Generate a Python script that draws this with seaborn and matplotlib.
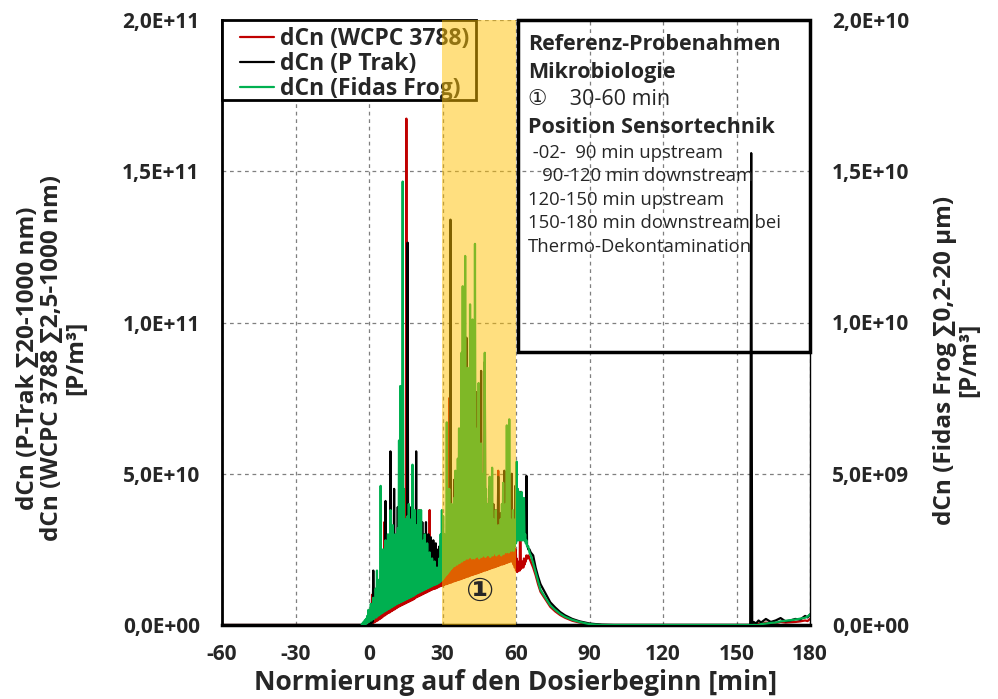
import numpy as np
import pandas as pd
import seaborn as sns
import matplotlib.pyplot as plt
from matplotlib.patches import Rectangle
from matplotlib.ticker import FuncFormatter

# half-minute grid starting at -3 min: "lo" sample at t, "hi" sample at t + 0.25
grid_start = -3.0

# Fidas Frog (right axis), values in 1e8 P/m3
green_hi_e8 = [0.5, 1, 1.5, 2, 3, 5, 4, 7, 6, 9,
               8, 12, 18, 10, 15, 46, 20, 25, 18, 28,
               22, 30, 25, 38, 27, 33, 24, 30, 26, 32,
               61, 79, 50, 146.6, 45, 35, 30, 36, 40, 30,
               35, 53, 30, 38, 33, 28, 38, 32, 38, 25,
               28, 30, 25, 27, 22, 24, 20, 22, 18, 21,
               17, 19, 16, 22, 30, 38, 36, 30, 25, 67,
               30, 45, 35, 40, 38, 42, 51, 40, 55, 65,
               60, 90, 112, 80, 122, 70, 85, 60, 106, 55,
               101, 70, 126, 50, 65, 80, 55, 60, 45, 50,
               90, 45, 40, 35, 49, 38, 52, 35, 30, 38,
               28, 33, 30, 35, 40, 47, 35, 40, 66, 38,
               68, 35, 30, 38, 32, 35, 54, 45, 44, 30,
               44, 35, 42, 30, 28, 26]
green_lo_e8 = [0, 0, 0, 0.3, 0.5, 1, 1, 1.5, 1.5, 2,
               2, 2.5, 2.5, 3, 3.2, 3.5, 3.8, 4, 4.3, 4.6,
               4.8, 5.1, 5.3, 5.5, 5.8, 6, 6.3, 6.5, 6.8, 7,
               7.2, 7.4, 7.6, 7.8, 8, 8.2, 8.4, 8.6, 8.8, 9,
               9.2, 9.4, 9.6, 9.8, 10.2, 10.4, 10.6, 10.8, 11, 11.2,
               11.4, 11.6, 11.8, 12, 12.2, 12.4, 12.6, 12.8, 13, 13.2,
               13.3, 13.5, 13.7, 13.9, 14.2, 14.6, 15, 15.5, 16, 16.5,
               17, 17.5, 18, 18.5, 19, 19.5, 19.5, 20, 20, 20.5,
               20.5, 21, 21, 21.5, 21.5, 22, 22, 22, 22.5, 22.5,
               22, 22.5, 22, 23, 22.5, 23, 22, 23, 22.5, 23,
               23, 22.5, 23, 23.5, 23, 22.5, 23.5, 23, 24, 23.5,
               23, 24, 23.5, 24, 23, 24, 23.5, 24.5, 24, 24.5,
               24, 25, 24.5, 25, 24.5, 26, 27, 28, 28, 28,
               28, 28, 28, 28, 27, 26]

# WCPC 3788 (left axis), values in 1e9 P/m3
red_hi = [0, 0, 0, 0, 0, 0, 0.5, 3, 10, 2,
          4, 2, 5, 3, 6, 5, 8, 12, 34, 6,
          10, 8, 12, 9, 32, 10, 14, 11, 15, 12,
          16, 13, 20, 15, 22, 18, 167.4, 30, 18, 14,
          16, 14, 18, 15, 17, 14, 20, 38, 16, 15,
          18, 16, 20, 17, 22, 38, 18, 17, 19, 16,
          18, 17, 19, 18, 20, 18, 22, 19, 21, 22,
          25, 75, 22, 24, 21, 23, 25, 22, 24, 21,
          23, 25, 22, 24, 26, 22, 25, 23, 24, 26,
          22, 25, 28, 77, 24, 26, 23, 25, 27, 24,
          25, 27, 24, 26, 25, 28, 24, 26, 25, 27,
          24, 51, 26, 25, 27, 24, 26, 25, 28, 26,
          25, 27, 26, 24, 26, 25, 22, 21, 20, 44,
          20, 21, 22, 21, 23, 22]
red_lo = [0, 0, 0, 0, 0, 0, 0, 0.2, 0.3, 0.6,
          0.8, 1, 1.3, 1.5, 1.8, 2, 2.3, 2.6, 3, 3.2,
          3.5, 3.8, 4, 4.2, 4.5, 4.7, 5, 5.2, 5.5, 5.7,
          6, 6.2, 6.4, 6.6, 6.8, 7, 7.2, 7.4, 7.6, 7.8,
          8, 8.2, 8.4, 8.6, 9, 9.2, 9.4, 9.6, 9.8, 10,
          10.2, 10.4, 10.6, 10.8, 11, 11.2, 11.4, 11.6, 11.8, 12,
          12, 12.2, 12.4, 12.6, 12.8, 13, 13, 13.2, 13.4, 13.5,
          13.6, 13.8, 14, 14, 14.2, 14.4, 14.5, 14.6, 14.8, 15,
          15, 15.2, 15.3, 15.5, 15.6, 15.8, 16, 16, 16.2, 16.4,
          16.5, 16.6, 16.8, 17, 17, 17.2, 17.3, 17.5, 17.6, 17.8,
          18, 18, 18.2, 18.3, 18.5, 18.6, 18.8, 19, 19, 19.2,
          19.3, 19.5, 19.6, 19.8, 20, 20, 20.2, 20.3, 20.5, 20.6,
          20.8, 21, 21, 21, 20, 19, 18, 17.5, 18, 18,
          18.5, 19, 19, 20, 21, 22]

# P-Trak (left axis), values in 1e9 P/m3
black_hi = [0, 0, 0, 0, 0, 0, 0.5, 2, 5, 18,
            8, 6, 10, 7, 12, 9, 15, 11, 14, 41,
            12, 16, 13, 57.4, 14, 18, 45, 16, 20, 39,
            18, 22, 20, 25, 24, 30, 28, 126.4, 35, 28,
            39, 25, 30, 28, 57.4, 26, 30, 24, 28, 34,
            25, 30, 34, 27, 30, 24, 29, 26, 28, 25,
            27, 24, 25, 26, 23, 24, 25, 26, 24, 30,
            28, 32, 134, 35, 30, 48, 33, 36, 38, 40,
            42, 45, 40, 50, 46, 95, 44, 55, 48, 79,
            45, 50, 42, 77, 48, 52, 46, 84, 44, 50,
            87, 42, 40, 38, 46, 36, 35, 40, 34, 38,
            33, 49, 35, 37, 34, 36, 51, 35, 33, 37,
            34, 32, 50, 35, 33, 46, 32, 30, 44, 30,
            43, 30, 32, 28, 49.3, 26]
black_lo = [0, 0, 0, 0, 0, 0, 0, 0.3, 0.6, 1,
            2.5, 3, 3, 3.5, 3.7, 4, 4.3, 4.5, 4.8, 5.1,
            5.3, 5.6, 5.8, 6, 6.3, 6.5, 6.8, 7, 7.3, 7.5,
            7.7, 7.9, 8.1, 8.3, 8.5, 8.7, 8.9, 9.1, 9.3, 9.5,
            9.7, 9.9, 10.1, 10.3, 10.7, 10.9, 11.1, 11.3, 11.5, 11.7,
            11.9, 12.1, 12.3, 12.5, 12.7, 12.9, 13.1, 13.3, 13.5, 13.7,
            13.8, 14, 14.2, 14.4, 14.7, 15.1, 15.5, 16, 16.5, 17,
            17.5, 18, 18.5, 19, 19.5, 20, 20, 20.5, 20.5, 21,
            21, 21.5, 21.5, 22, 22, 22.5, 22.5, 22.5, 23, 23,
            22.5, 23, 22.5, 23.5, 23, 23.5, 22.5, 23.5, 23, 23.5,
            23.5, 23, 23.5, 24, 23.5, 23, 24, 23.5, 24.5, 24,
            23.5, 24.5, 24, 24.5, 23.5, 24.5, 24, 25, 24.5, 25,
            24.5, 25.5, 25, 25.5, 25, 26.5, 27.5, 28.5, 28.5, 28.5,
            28.5, 28.5, 28.5, 28.5, 27.5, 26.5]

# decay after dosing
tail_t = [65, 65.5, 66, 67, 68, 69, 70, 72, 74, 76, 78, 80, 83, 86, 90, 95, 100]
green_tail_e8 = [26, 24, 23, 20.5, 17.5, 14.5, 11.6, 9, 6.5, 5, 3.7, 2.7, 1.7, 1, 0.3, 0, 0]
red_tail = [23, 22, 21, 19, 16.5, 13.5, 11, 8.5, 6, 4.5, 3.3, 2.4, 1.4, 0.8, 0.2, 0, 0]
black_tail = [25, 25, 24, 23, 19, 16, 13.5, 10.5, 7.5, 5.8, 4.3, 3.2, 2, 1.2, 0.5, 0.1, 0]

# thermo decontamination phase
late_t = [150, 155.6, 156.0, 156.4, 157, 158, 159, 160, 162, 164, 166, 168,
          170, 172, 174, 176, 178, 179, 180]
green_late_e8 = [0, 0, 0, 0, 0, 0, 0, 0.3, 0.5, 0.7, 0.8, 1.2, 1.4, 1.6, 1.8, 2.1, 2.4, 2.8, 3.5]
red_late = [0, 0, 2, 0.5, 0.3, 0.2, 0.5, 0.3, 0.8, 0.5, 0.6, 1, 0.8, 0.9, 1, 1.2, 1.5, 1.3, 2]
black_late = [0, 0, 156, 0.5, 1, 0.5, 1.5, 0.8, 2, 1, 1.5, 2.3, 1.2, 1.5, 2, 1.8, 3, 2.5, 3.5]

labels = ["dCn (WCPC 3788)", "dCn (P Trak)", "dCn (Fidas Frog)"]


def build(lo, hi, tail, late, scale, start=None):
    n = len(lo)
    t0 = grid_start + 0.5 * np.arange(n)
    t = np.empty(2 * n)
    v = np.empty(2 * n)
    t[0::2], t[1::2] = t0, t0 + 0.25
    v[0::2], v[1::2] = lo, hi
    ts = [t, tail_t, late_t]
    vs = [v, tail, late]
    if start is not None:
        ts.insert(0, [start])
        vs.insert(0, [0])
    return pd.DataFrame({"t": np.concatenate(ts),
                         "v": np.concatenate(vs) * scale})


df_red = build(red_lo, red_hi, red_tail, red_late, 1e9, start=-60)
df_black = build(black_lo, black_hi, black_tail, black_late, 1e9, start=-60)
df_green = build(green_lo_e8, green_hi_e8, green_tail_e8, green_late_e8, 1e8)

sns.set_theme(style="white")
plt.rcParams["font.family"] = ["Open Sans", "DejaVu Sans", "Noto Sans CJK SC"]
plt.rcParams["axes.unicode_minus"] = False

fig = plt.figure(figsize=(9.98, 6.99), dpi=100)
ax = fig.add_axes([222 / 998, 1 - 625 / 699, 588 / 998, 605 / 699])
ax2 = ax.twinx()

sns.lineplot(data=df_red, x="t", y="v", ax=ax, color="#C00000", lw=1.6,
             estimator=None, sort=False, zorder=2)
sns.lineplot(data=df_black, x="t", y="v", ax=ax, color="black", lw=1.6,
             estimator=None, sort=False, zorder=3)
sns.lineplot(data=df_green, x="t", y="v", ax=ax2, color="#00B050", lw=1.6,
             estimator=None, sort=False, zorder=2)

ax.set_xlim(-60, 180)
ax.set_ylim(0, 2e11)
ax2.set_ylim(0, 2e10)
ax.set_xticks(range(-60, 181, 30))
ax.set_yticks(np.arange(0, 2.01e11, 5e10))
ax2.set_yticks(np.arange(0, 2.01e10, 5e9))
sci = FuncFormatter(lambda v, p: f"{v:.1E}".replace(".", ","))
ax.yaxis.set_major_formatter(sci)
ax2.yaxis.set_major_formatter(sci)
ax.set_xlabel("")
ax.set_ylabel("")
ax2.set_ylabel("")

for a in (ax, ax2):
    a.tick_params(length=0, labelsize=15)
    for lab in a.get_xticklabels() + a.get_yticklabels():
        lab.set_fontweight("bold")
ax.tick_params(axis="y", pad=16)
ax2.tick_params(axis="y", pad=16)
ax.tick_params(axis="x", pad=14)

ax.grid(True, ls=(0, (3, 3)), color="#7f7f7f", lw=0.9)

for s in ("top", "right"):
    ax.spines[s].set_visible(False)
for s in ("top", "left", "bottom"):
    ax2.spines[s].set_visible(False)
ax.spines["left"].set_color("black")
ax.spines["left"].set_linewidth(2)
ax.spines["bottom"].set_color("black")
ax.spines["bottom"].set_linewidth(2.5)
ax2.spines["right"].set_color("black")
ax2.spines["right"].set_linewidth(1)

# legend on primary axes (the sampling span on ax2 tints it)
ax.add_patch(Rectangle((0, 0.8678), 0.432, 0.1322, transform=ax.transAxes,
                       facecolor="white", edgecolor="black", lw=2, zorder=6,
                       clip_on=False))
handles = [ax.lines[0], ax.lines[1], ax2.lines[0]]
leg = ax.legend(handles, labels, loc="upper left", bbox_to_anchor=(0.0306, 0.989),
                borderaxespad=0, borderpad=0, frameon=False,
                prop={"weight": "bold", "size": 16.5}, handlelength=1.5,
                handletextpad=0.25, labelspacing=0.05)
leg.set_zorder(7)

# sampling window 30-60 min
ax2.axvspan(30, 60, color="#FFC000", alpha=0.5, lw=0, zorder=4)
ax2.text(45, 1.09e9, "\u2460", ha="center", va="center", fontsize=24,
         fontweight="bold", zorder=5)

# info box
ax2.add_patch(Rectangle((0.503, 0.451), 0.497, 0.549, transform=ax2.transAxes,
                        fill=False, edgecolor="black", lw=2.5, zorder=6, clip_on=False))
tx = 0.52
box_lines = [
    (0.959, "Referenz-Probenahmen", "bold", 15.5),
    (0.914, "Mikrobiologie", "bold", 15.5),
    (0.869, "\u2460    30-60 min", "normal", 15.5),
    (0.823, "Position Sensortechnik", "bold", 15.5),
    (0.780, " -02-  90 min upstream", "normal", 13.3),
    (0.742, "   90-120 min downstream", "normal", 13.3),
    (0.703, "120-150 min upstream", "normal", 13.3),
    (0.665, "150-180 min downstream bei", "normal", 13.3),
    (0.625, "Thermo-Dekontamination", "normal", 13.3),
]
for y, s, w, fs in box_lines:
    ax2.text(tx, y, s, transform=ax2.transAxes, ha="left", va="center",
             fontweight=w, fontsize=fs, zorder=6)

fig.text(0.5 * (222 + 810) / 998, 1 - 683 / 699, "Normierung auf den Dosierbeginn [min]",
         ha="center", va="center", fontsize=19, fontweight="bold")
fig.text(52 / 998, 1 - 358 / 699,
         "dCn (P-Trak \u221120-1000 nm)\ndCn (WCPC 3788 \u22112,5-1000 nm)\n[P/m\u00b3]",
         rotation=90, ha="center", va="center", multialignment="center",
         fontsize=17.5, fontweight="bold", linespacing=1.0)
fig.text(957 / 998, 1 - 360 / 699,
         "dCn (Fidas Frog \u22110,2-20 \u00b5m)\n[P/m\u00b3]",
         rotation=90, ha="center", va="center", multialignment="center",
         fontsize=17.5, fontweight="bold", linespacing=1.0)

fig.savefig("out.png", dpi=100)
